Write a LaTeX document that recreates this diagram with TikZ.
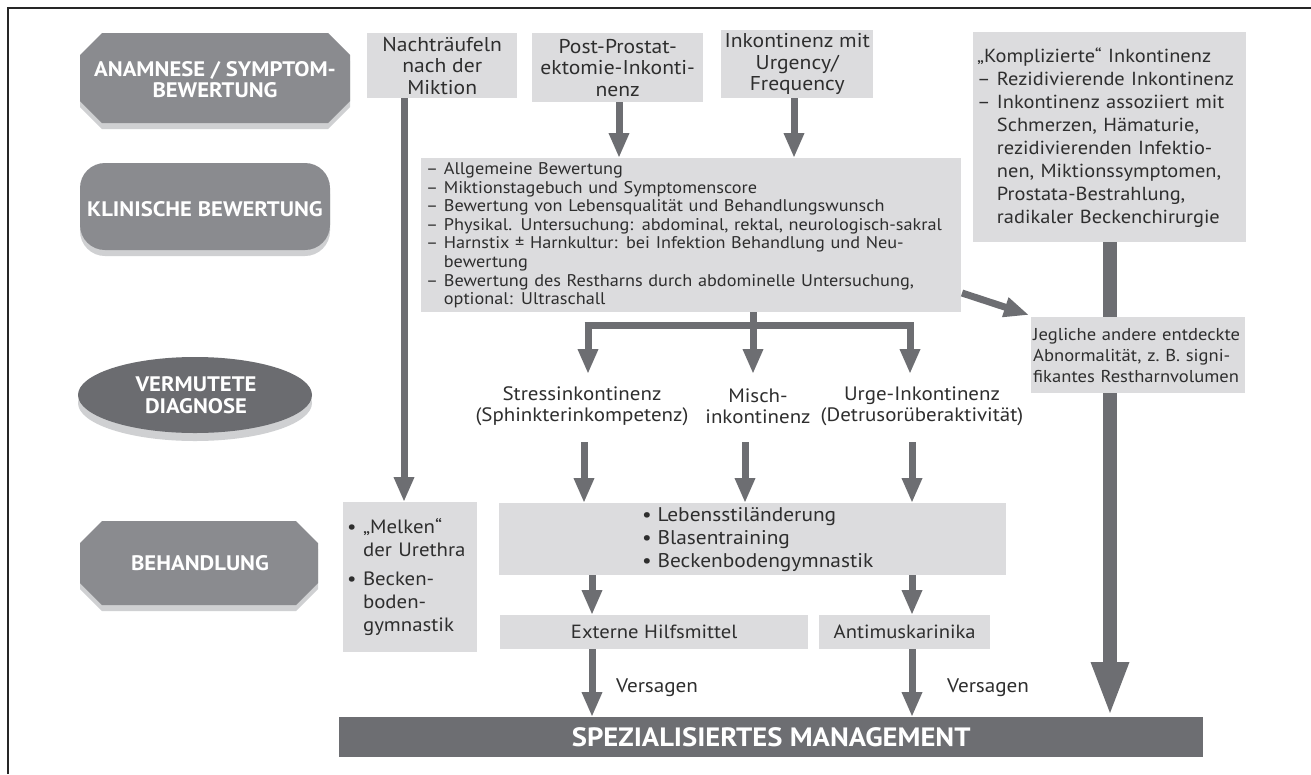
\documentclass[tikz,border=0pt]{standalone}
\usepackage{fontspec}
\setmainfont{PT Sans}[FakeStretch=1.08]
\usetikzlibrary{arrows.meta,shapes.geometric}
\definecolor{boxfill}{HTML}{DCDCDE}
\definecolor{arrowc}{HTML}{6D6E72}
\definecolor{shapec}{HTML}{8A8B8F}
\definecolor{shaped}{HTML}{6B6C70}
\definecolor{shadowc}{HTML}{CFD0D2}
\definecolor{txt}{HTML}{2E2E2E}
\newcommand\octpath[5]{(#1+#5,#2) -- (#3-#5,#2) -- (#3,#2+#5) -- (#3,#4-#5) -- (#3-#5,#4) -- (#1+#5,#4) -- (#1,#4-#5) -- (#1,#2+#5) -- cycle}
\tikzset{
  box/.style={fill=boxfill, inner sep=0pt, text=txt, align=center, font=\fontsize{20}{21.5}\selectfont},
  labtxt/.style={text=white, align=center, font=\bfseries\fontsize{21}{21}\selectfont, inner sep=0pt},
  arr/.style={draw=arrowc, line width=7pt, -{Triangle[width=19pt,length=25pt]}},
  bigarr/.style={draw=arrowc, line width=14pt, -{Triangle[width=34pt,length=55pt]}},
  shaft/.style={draw=arrowc, line width=7pt},
  diag/.style={text=txt, align=center, inner sep=0pt, font=\fontsize{19.4}{21}\selectfont},
  plain/.style={text=txt, inner sep=0pt, font=\fontsize{19.6}{22}\selectfont},
}
\begin{document}
\begin{tikzpicture}[x=1pt,y=-1pt]
\useasboundingbox (0,0) rectangle (1311,774);
\fill[white] (0,0) rectangle (1311,774);
\draw[line width=1.3pt, black!85] (8,774) -- (8,8) -- (1311,8);

% left labels
\fill[shadowc, shift={(0,6)}] \octpath{80}{33}{350}{123}{22};
\fill[shapec] \octpath{80}{33}{350}{123}{22};
\node[labtxt] (anam) at (215,80) {ANAMNESE / SYMPTOM-\\BEWERTUNG};

\fill[shadowc, rounded corners=25pt] (80,169) rectangle (330,256);
\fill[shapec, rounded corners=25pt] (80,163) rectangle (330,250);
\node[labtxt] (klin) at (205,209) {KLINISCHE BEWERTUNG};

\fill[shadowc] (195,403) ellipse [x radius=117, y radius=38];
\fill[shaped] (195,395) ellipse [x radius=117, y radius=38];
\node[labtxt, font=\bfseries\fontsize{21}{22}\selectfont] (verm) at (196,395) {VERMUTETE\\DIAGNOSE};

\fill[shadowc, shift={(0,6)}] \octpath{80}{521}{318}{605}{22};
\fill[shapec] \octpath{80}{521}{318}{605}{22};
\node[labtxt] (beh) at (200,563) {BEHANDLUNG};

% top boxes
\node[box, anchor=north west, minimum width=150pt, minimum height=65pt] (nach) at (367,33) {Nachträufeln\\nach der\\Miktion};
\node[box, anchor=north west, minimum width=171pt, minimum height=69pt] (post) at (532,33) {Post-Prostat-\\ektomie-Inkonti-\\nenz};
\node[box, anchor=north west, minimum width=152pt, minimum height=68pt] (urg) at (721,30) {Inkontinenz mit\\Urgency/\\Frequency};

\node[box, anchor=north west, minimum width=273pt, minimum height=210pt, text width=265pt, inner xsep=4pt, align=left, font=\fontsize{18.9}{23}\selectfont] (kompl) at (973,32)
{„Komplizierte“ Inkontinenz\\
– Rezidivierende Inkontinenz\\
– Inkontinenz assoziiert mit\\
\hphantom{– }Schmerzen, Hämaturie,\\
\hphantom{– }rezidivierenden Infektio-\\
\hphantom{– }nen, Miktionssymptomen,\\
\hphantom{– }Prostata-Bestrahlung,\\
\hphantom{– }radikaler Beckenchirurgie};

\node[box, anchor=north west, minimum width=540pt, minimum height=154pt, text width=530pt, inner xsep=5pt, align=left, font=\fontsize{16.9}{18.6}\selectfont] (clin) at (421,158)
{– Allgemeine Bewertung\\
– Miktionstagebuch und Symptomenscore\\
– Bewertung von Lebensqualität und Behandlungswunsch\\
– Physikal. Untersuchung: abdominal, rektal, neurologisch-sakral\\
– Harnstix ± Harnkultur: bei Infektion Behandlung und Neu-\\
\hphantom{– }bewertung\\
– Bewertung des Restharns durch abdominelle Untersuchung,\\
\hphantom{– }optional: Ultraschall};

\node[box, anchor=north west, minimum width=214pt, minimum height=76pt, text width=212pt, inner xsep=1pt, align=left, font=\fontsize{17.2}{21}\selectfont] (jeg) at (1031,317)
{\hspace*{1pt}Jegliche andere entdeckte\\\hspace*{1pt}Abnormalität, z.~B. signi-\\\hspace*{1pt}fikantes Restharnvolumen};

% diagnoses
\node[diag] (stress) at (582,406) {Stressinkontinenz\\(Sphinkterinkompetenz)};
\node[diag] (misch) at (758,406) {Misch-\\inkontinenz};
\node[diag] (urge) at (922,406) {Urge-Inkontinenz\\(Detrusorüberaktivität)};

% treatment
\node[box, anchor=north west, minimum width=130pt, minimum height=150pt, text width=126pt, inner xsep=4pt, align=left, font=\fontsize{19.3}{23}\selectfont] (melk) at (343,502)
{\textbullet\ „Melken“\\\hphantom{\textbullet\ }der Urethra\\[6pt]\textbullet\ Becken-\\\hphantom{\textbullet\ }boden-\\\hphantom{\textbullet\ }gymnastik};
\node[box, anchor=north west, minimum width=507pt, minimum height=72pt] (leb) at (499,503) {};
\node[plain, anchor=west, align=left, font=\fontsize{19.8}{23}\selectfont] (lebt) at (642,540)
{\textbullet\ Lebensstiländerung\\\textbullet\ Blasentraining\\\textbullet\ Beckenbodengymnastik};
\node[box, anchor=north west, minimum width=308pt, minimum height=34pt, font=\fontsize{19.1}{21}\selectfont] (ext) at (500,615) {Externe Hilfsmittel};
\node[box, anchor=north west, minimum width=171pt, minimum height=34pt, font=\fontsize{19.1}{21}\selectfont] (anti) at (819,615) {Antimuskarinika};

\node[fill=arrowc, anchor=north west, minimum width=864pt, minimum height=40pt, inner sep=0pt, text=white, font=\bfseries\fontsize{26.5}{28}\selectfont] (spez) at (339,717) {SPEZIALISIERTES MANAGEMENT};

% x positions
\coordinate (xc) at (912,0);
\coordinate (xd) at (592,0);
\coordinate (xe) at (1110,0);

% connectors
\coordinate (nachA) at (404,98);
\draw[arr] (nachA) -- (nachA |- melk.north);
\coordinate (postA) at (619,102);
\draw[arr] (postA) -- (postA |- clin.north);
\coordinate (urgA) at (794,98);
\draw[arr] (urgA) -- (urgA |- clin.north);

\coordinate (br) at (753,325);
\coordinate (brL) at (588,325);
\coordinate (brR) at (910,325);
\coordinate (tipL) at (588,374);
\coordinate (tipM) at (753,374);
\coordinate (tipR) at (910,374);
\draw[shaft] (br |- clin.south) -- (br);
\draw[shaft, line cap=butt] ([xshift=-3.5pt]brL) -- ([xshift=3.5pt]brR);
\draw[arr] (brL) -- (tipL);
\draw[arr] (br) -- (tipM);
\draw[arr] (brR) -- (tipR);

\coordinate (dgA) at (962,293);
\coordinate (dgB) at (1029,315);
\draw[arr] (dgA) -- (dgB);

\draw[draw=arrowc, line width=14pt] (xe |- kompl.south) -- (xe |- jeg.north);
\draw[bigarr] (xe |- jeg.south) -- (xe |- spez.north);

\coordinate (sA) at (584,442);
\coordinate (sB) at (745,442);
\coordinate (sC) at (912,442);
\draw[arr] (sA) -- (sA |- leb.north);
\draw[arr] (sB) -- (sB |- leb.north);
\draw[arr] (sC) -- (sC |- leb.north);

\draw[arr] (xd |- leb.south) -- (xd |- ext.north);
\draw[arr] (xc |- leb.south) -- (xc |- anti.north);

\draw[arr] (xd |- ext.south) -- (xd |- spez.north);
\draw[arr] (xc |- anti.south) -- (xc |- spez.north);

\node[plain, anchor=west] (vers1) at (616,688) {Versagen};
\node[plain, anchor=west] (vers2) at (947,688) {Versagen};
\end{tikzpicture}
\end{document}
